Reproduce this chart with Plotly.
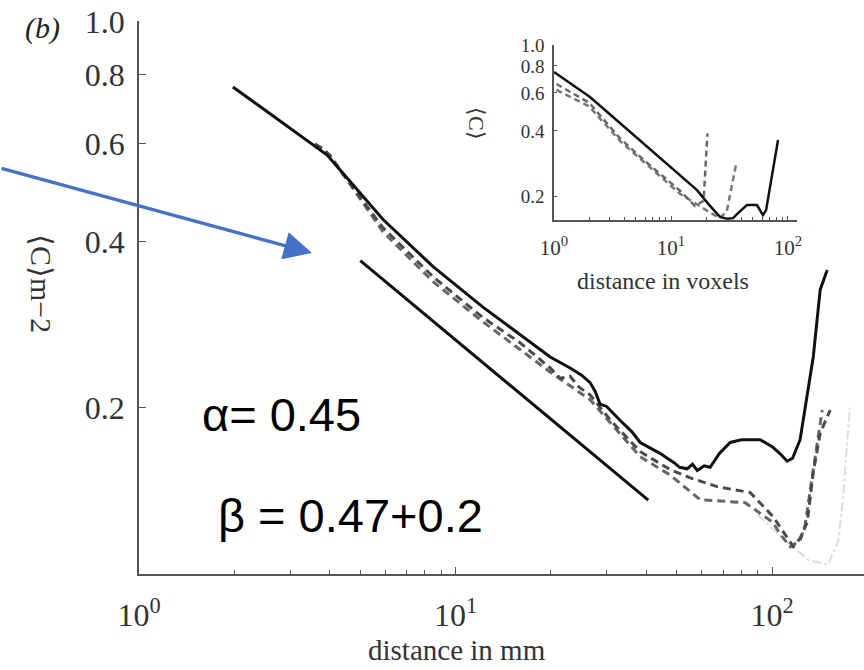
import plotly.graph_objects as go

W, H = 864, 670

# ---- main panel: correlation vs distance (mm) ----
sol_x = [1.98, 2.5, 3.2, 3.93, 4.5, 5.9, 8.49, 12.2, 16.0, 19.9, 23.0, 25.0, 26.6, 27.6,
         28.6, 30.0, 33.0, 36.0, 38.3, 42.0, 44.5, 46.6, 49.0, 51.0, 53.9, 56.0, 58.0,
         61.0, 63.7, 68.0, 73.7, 80.0, 91.6, 100.0, 106.0, 111.5, 116.0, 122.5, 128.0,
         134.8, 141.8, 149.2]
sol_y = [0.761, 0.691, 0.624, 0.573, 0.524, 0.438, 0.360, 0.304, 0.271, 0.247, 0.236,
         0.229, 0.222, 0.214, 0.203, 0.201, 0.190, 0.181, 0.173, 0.168, 0.165, 0.162,
         0.159, 0.156, 0.155, 0.158, 0.154, 0.157, 0.156, 0.165, 0.173, 0.175, 0.175,
         0.170, 0.165, 0.160, 0.162, 0.175, 0.205, 0.247, 0.327, 0.355]

dashA_x = [3.6, 3.87, 5.9, 8.49, 12.2, 16.0, 19.9, 21.4, 23.0, 24.5, 26.6, 30.8, 38.3,
           47.6, 55.1, 67.0, 85.2, 100.7, 116.5, 122.5, 129.0, 134.8, 141.8, 152.5]
dashA_y = [0.60, 0.585, 0.423, 0.345, 0.291, 0.262, 0.236, 0.226, 0.228, 0.218, 0.211,
           0.190, 0.1665, 0.1545, 0.1493, 0.1439, 0.1404, 0.127, 0.1121, 0.116, 0.124,
           0.1525, 0.180, 0.198]

dashB_x = [3.6, 4.01, 5.9, 8.49, 12.2, 19.9, 26.6, 38.3, 47.6, 59.2, 82.2, 100.7, 106.0,
           114.0, 122.5, 127.1, 133.8, 143.9]
dashB_y = [0.60, 0.573, 0.416, 0.338, 0.286, 0.232, 0.2067, 0.163, 0.151, 0.1363, 0.1346,
           0.1239, 0.118, 0.112, 0.115, 0.1228, 0.150, 0.198]

dashC_x = [90, 110, 130, 150, 162, 168, 172, 176]
dashC_y = [0.128, 0.115, 0.106, 0.104, 0.115, 0.14, 0.17, 0.2]

fit_x = [5.0, 40.6]
fit_y = [0.369, 0.136]

x_ticks = [1, 10, 100]
x_ticktext = ["10<sup>0</sup>", "10<sup>1</sup>", "10<sup>2</sup>"]
x_minor = [2, 3, 4, 5, 6, 7, 8, 9, 20, 30, 40, 50, 60, 70, 80, 90, 200]
y_ticks = [0.2, 0.4, 0.6, 0.8, 1.0]
y_ticktext = ["0.2", "0.4", "0.6", "0.8", "1.0"]

# ---- inset: correlation vs distance (voxels) ----
in_sol_x = [1.0, 1.5, 2.03, 3.0, 5.0, 8.0, 12.0, 16.7, 21.0, 26.2, 30.0, 33.9, 38.0,
            44.6, 54.3, 61.1, 65.0, 70.2, 76.0, 82.2]
in_sol_y = [0.75, 0.643, 0.574, 0.478, 0.376, 0.301, 0.249, 0.213, 0.183, 0.160, 0.157,
            0.158, 0.168, 0.1817, 0.1817, 0.163, 0.172, 0.22, 0.29, 0.363]
in_dA_x = [1.05, 2.0, 3.66, 6.0, 11.9, 16.0, 19.0, 19.6, 20.0, 20.5]
in_dA_y = [0.66, 0.54, 0.37, 0.29, 0.212, 0.180, 0.19, 0.24, 0.31, 0.39]
in_dB_x = [1.05, 2.0, 3.66, 11.9, 20.0, 26.0, 30.0, 32.0, 34.0, 36.0]
in_dB_y = [0.62, 0.52, 0.36, 0.205, 0.172, 0.158, 0.17, 0.2, 0.24, 0.28]


def px(x):
    return x / W


def py(y):
    return 1 - y / H


SERIF = "Liberation Serif, Times New Roman, serif"
SANS = "Liberation Sans, Arial, sans-serif"
AX = "#555555"

fig = go.Figure()

fig.add_trace(go.Scatter(x=dashC_x, y=dashC_y, mode="lines",
                         line=dict(color="#dddddd", width=2, dash="dashdot")))
fig.add_trace(go.Scatter(x=dashB_x, y=dashB_y, mode="lines",
                         line=dict(color="#666666", width=3, dash="8px,5px")))
fig.add_trace(go.Scatter(x=dashA_x, y=dashA_y, mode="lines",
                         line=dict(color="#4a4a4a", width=3, dash="8px,5px")))
fig.add_trace(go.Scatter(x=sol_x, y=sol_y, mode="lines",
                         line=dict(color="#111111", width=3)))
fig.add_trace(go.Scatter(x=fit_x, y=fit_y, mode="lines",
                         line=dict(color="#111111", width=3)))

fig.add_trace(go.Scatter(x=in_dB_x, y=in_dB_y, mode="lines", xaxis="x2", yaxis="y2",
                         line=dict(color="#777777", width=2.5, dash="6px,4px")))
fig.add_trace(go.Scatter(x=in_dA_x, y=in_dA_y, mode="lines", xaxis="x2", yaxis="y2",
                         line=dict(color="#666666", width=2.5, dash="6px,4px")))
fig.add_trace(go.Scatter(x=in_sol_x, y=in_sol_y, mode="lines", xaxis="x2", yaxis="y2",
                         line=dict(color="#111111", width=2.5)))

axis_common = dict(type="log", showgrid=False, zeroline=False, showline=True,
                   automargin=False, linecolor=AX, linewidth=1.5, ticks="inside",
                   tickcolor=AX)

fig.update_layout(
    width=W, height=H, margin=dict(l=0, r=0, t=0, b=0, autoexpand=False),
    paper_bgcolor="white", plot_bgcolor="white", showlegend=False,
    xaxis=dict(axis_common, domain=[px(139), 1.0], range=[0, 2.29], anchor="y",
               tickvals=x_ticks, ticktext=x_ticktext, ticklen=7, tickwidth=1.2,
               tickfont=dict(family=SERIF, size=32, color="#333"), ticklabelstandoff=12,
               minor=dict(tickvals=x_minor, ticks="inside", ticklen=4, tickcolor=AX)),
    yaxis=dict(axis_common, domain=[py(574), py(21.4)], range=[-1, 0], anchor="x",
               tickvals=y_ticks, ticktext=y_ticktext, ticklen=7, tickwidth=1.2,
               tickfont=dict(family=SERIF, size=32, color="#333"), ticklabelstandoff=6),
    xaxis2=dict(axis_common, domain=[px(554), px(797)], range=[0, 2.077], anchor="y2",
                tickvals=x_ticks, ticktext=x_ticktext, ticklen=4,
                tickfont=dict(family=SERIF, size=21, color="#333"), ticklabelstandoff=8,
                minor=dict(tickvals=x_minor, ticks="inside", ticklen=3, tickcolor=AX)),
    yaxis2=dict(axis_common, domain=[py(220), py(45)], range=[-0.81, 0], anchor="x2",
                tickvals=y_ticks, ticktext=y_ticktext, ticklen=3,
                tickfont=dict(family=SERIF, size=19, color="#333"), ticklabelstandoff=4),
)

annotations = [
    dict(x=px(457), y=py(650), text="distance in mm",
         font=dict(family=SERIF, size=29, color="#333")),
    dict(x=px(42), y=py(283), text="⟨C⟩m−2", textangle=90,
         font=dict(family=SERIF, size=30, color="#333")),
    dict(x=px(663), y=py(281), text="distance in voxels",
         font=dict(family=SERIF, size=24, color="#333")),
    dict(x=px(477), y=py(123), text="⟨C⟩", textangle=90,
         font=dict(family=SERIF, size=22, color="#333")),
    dict(x=px(42), y=py(28), text="<i>(b)</i>",
         font=dict(family=SERIF, size=30, color="#222")),
    dict(x=px(200), y=py(414), text="α= 0.45", xanchor="left",
         font=dict(family=SANS, size=47, color="black")),
    dict(x=px(216), y=py(515), text="β = 0.47+0.2", xanchor="left",
         font=dict(family=SANS, size=47, color="black")),
]
for a in annotations:
    a.setdefault("xanchor", "center")
    fig.add_annotation(xref="paper", yref="paper", yanchor="middle", showarrow=False, **a)

# pointer toward the fitted power-law line
fig.add_annotation(xref="paper", yref="paper", x=px(312), y=py(253), ax=-312, ay=-85,
                   text="", showarrow=True, arrowhead=2, arrowsize=1.6, arrowwidth=3.5,
                   arrowcolor="#4472C4")

fig.write_html("out.html")
